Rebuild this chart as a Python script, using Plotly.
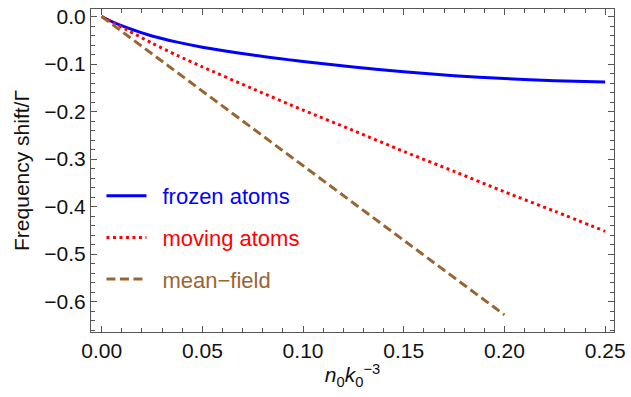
import plotly.graph_objects as go

# Density grid n0 k0^-3
x_grid = [0.0, 0.005, 0.0125, 0.025, 0.0375, 0.05, 0.075, 0.1, 0.125, 0.15, 0.175, 0.2, 0.225, 0.25]

# Frequency shift / Gamma for each model
frozen = [0.0, -0.0105, -0.0235, -0.041, -0.054, -0.0645, -0.081, -0.0945, -0.1065, -0.1165, -0.1245, -0.1305, -0.135, -0.138]
moving = [0.0, -0.0115, -0.028, -0.056, -0.082, -0.106, -0.152, -0.197, -0.240, -0.284, -0.326, -0.369, -0.410, -0.452]
mf_x = [0.0, 0.2]
mean_field = [0.0, -0.628]

FONT = "Liberation Sans, Arial, sans-serif"
AXIS_GRAY = "#555555"
TEXT = "#111111"
GAP = "\u2002"  # spacing between legend key and label

fig = go.Figure()
fig.add_trace(go.Scatter(
    x=x_grid, y=frozen, mode="lines", line=dict(color="#0000FF", width=3, shape="spline", smoothing=0.8),
    name=GAP + "<span style='color:#0000FF'>frozen atoms</span>", legendgroup="a"))
fig.add_trace(go.Scatter(
    x=x_grid, y=moving, mode="lines", line=dict(color="#FF0000", width=3, dash="3px,3.5px", shape="spline", smoothing=0.8),
    name=GAP + "<span style='color:#FF0000'>moving atoms</span>", legendgroup="b"))
fig.add_trace(go.Scatter(
    x=mf_x, y=mean_field, mode="lines", line=dict(color="#996633", width=3, dash="9px,4.5px"),
    name=GAP + "<span style='color:#996633'>mean\u2212field</span>", legendgroup="c"))

axis_common = dict(
    showline=True, linecolor=AXIS_GRAY, linewidth=1.2, mirror="ticks",
    ticks="inside", ticklen=6, tickwidth=1, tickcolor=AXIS_GRAY,
    showgrid=False, zeroline=False,
    tickfont=dict(family=FONT, size=21, color=TEXT),
)

fig.update_xaxes(
    range=[-0.0053, 0.2544], tick0=0, dtick=0.05, tickformat=".2f",
    minor=dict(ticks="inside", ticklen=3.5, dtick=0.01, tickcolor=AXIS_GRAY),
    title=dict(text="<i>n</i><sub>0</sub><i>k</i><sub>0</sub><sup>\u22123</sup>",
               font=dict(family=FONT, size=21, color=TEXT), standoff=6),
    **axis_common)
fig.update_yaxes(
    range=[-0.664, 0.0158], tick0=0, dtick=0.1, tickformat=".1f",
    minor=dict(ticks="inside", ticklen=3.5, dtick=0.02, tickcolor=AXIS_GRAY),
    title=dict(text="Frequency shift/\u0393",
               font=dict(family=FONT, size=21, color=TEXT), standoff=8),
    **axis_common)

fig.update_layout(
    width=631, height=397,
    margin=dict(l=91, r=13, t=5, b=65),
    paper_bgcolor="white", plot_bgcolor="white",
    font=dict(family=FONT, size=21),
    showlegend=True,
    legend=dict(x=0.02, y=0.486, xanchor="left", yanchor="top",
                bgcolor="rgba(0,0,0,0)", tracegroupgap=10, itemwidth=40,
                font=dict(family=FONT, size=22)),
)

fig.write_html("out.html")
